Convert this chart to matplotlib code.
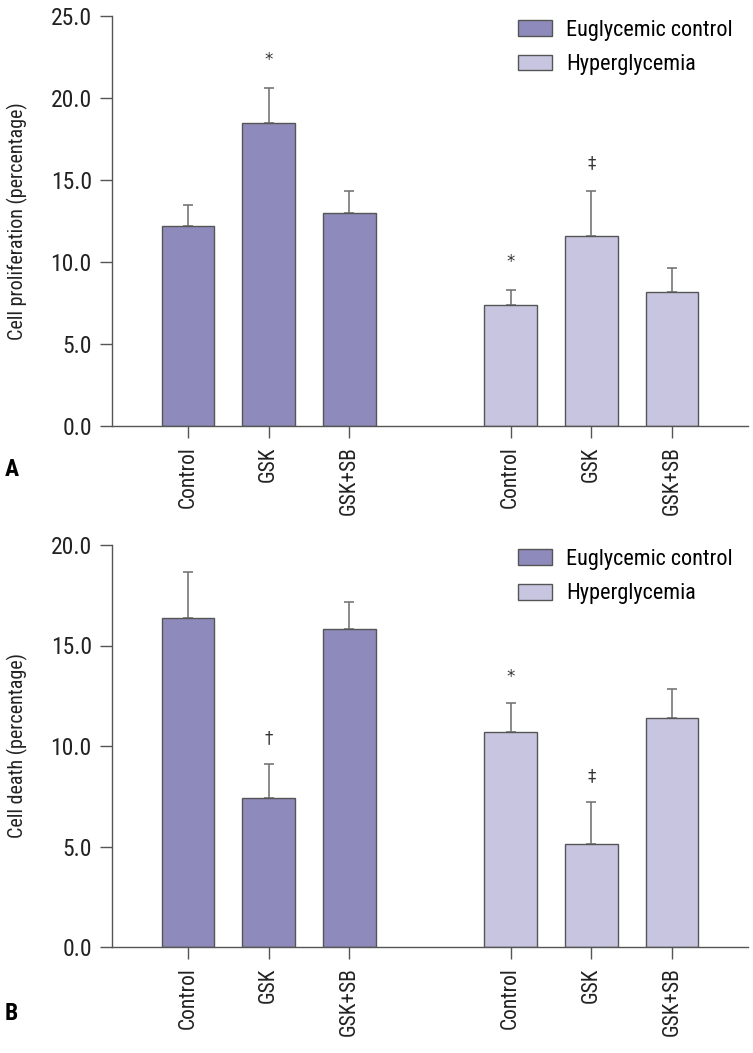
import matplotlib
matplotlib.use("Agg")
import matplotlib.pyplot as plt
from matplotlib import font_manager
import numpy as np

groups = ["Euglycemic control", "Hyperglycemia"]
treatments = ["Control", "GSK", "GSK+SB"]

# panel A: cell proliferation (%)
prolif_eu = [12.2, 18.5, 13.0]
prolif_eu_err = [1.3, 2.1, 1.3]
prolif_hy = [7.4, 11.6, 8.2]
prolif_hy_err = [0.9, 2.7, 1.45]
prolif_marks_eu = ["", "*", ""]
prolif_marks_hy = ["*", "\u2021", ""]

# panel B: cell death (%)
death_eu = [16.35, 7.4, 15.8]
death_eu_err = [2.3, 1.7, 1.35]
death_hy = [10.7, 5.1, 11.4]
death_hy_err = [1.45, 2.1, 1.45]
death_marks_eu = ["", "\u2020", ""]
death_marks_hy = ["*", "\u2021", ""]

dark = "#8e8bbc"
light = "#c7c5df"
edge = "#555555"

# condensed face if there is one, plain sans otherwise
have = {f.name for f in font_manager.fontManager.ttflist}
main_font = "DejaVu Sans"
for name in ["Liberation Sans Narrow", "Roboto Condensed", "Open Sans Condensed", "Liberation Sans"]:
    if name in have:
        main_font = name
        break
plt.rcParams["font.family"] = [main_font, "DejaVu Sans"]

pos_eu = np.array([0, 1, 2])
pos_hy = np.array([4, 5, 6])
width = 0.65
fs = 15.5


def draw_panel(ax, eu, eu_err, hy, hy_err, marks_eu, marks_hy, ymax, step, ylabel, mark_gap):
    for pos, vals, errs, col, lab in [(pos_eu, eu, eu_err, dark, groups[0]),
                                      (pos_hy, hy, hy_err, light, groups[1])]:
        ax.bar(pos, vals, width=width, color=col, edgecolor=edge, linewidth=1.0, label=lab, zorder=2)
        ax.errorbar(pos, vals, yerr=[np.zeros(len(vals)), errs], fmt="none",
                    ecolor="#777777", elinewidth=1.2, capsize=3.5, capthick=1.2, zorder=1)
    for pos, vals, errs, marks in [(pos_eu, eu, eu_err, marks_eu), (pos_hy, hy, hy_err, marks_hy)]:
        for p, v, e, m in zip(pos, vals, errs, marks):
            if m:
                ax.text(p, v + e + mark_gap, m, ha="center", va="center", fontsize=12,
                        color="#333333", family=["DejaVu Sans"])
    ax.set_xlim(-0.94, 6.94)
    ax.set_ylim(0, ymax)
    ticks = np.arange(0, ymax + 0.01, step)
    ax.set_yticks(ticks)
    ax.set_yticklabels(["%.1f" % t for t in ticks])
    ax.set_xticks(list(pos_eu) + list(pos_hy))
    ax.set_xticklabels(treatments * 2, rotation=90)
    ax.spines["top"].set_visible(False)
    ax.spines["right"].set_visible(False)
    for s in ["left", "bottom"]:
        ax.spines[s].set_color(edge)
        ax.spines[s].set_linewidth(1.0)
    ax.tick_params(axis="both", length=8.5, width=1.0, color=edge,
                   labelcolor="#222222", pad=6)
    ax.tick_params(axis="x", labelsize=fs)
    ax.tick_params(axis="y", labelsize=17)
    ax.set_ylabel(ylabel, fontsize=14.5, color="#222222")
    ax.yaxis.set_label_coords(-0.132, 0.5)
    ax.legend(loc="upper right", bbox_to_anchor=(0.99, 1.012), frameon=False, fontsize=16,
              handlelength=1.55, handleheight=0.72, handletextpad=0.62, labelspacing=0.6,
              borderaxespad=0.0)


fig = plt.figure(figsize=(7.53, 10.53), dpi=100)
axA = fig.add_axes([112 / 753, 1 - 426 / 1053, 636 / 753, 410 / 1053])
axB = fig.add_axes([112 / 753, 1 - 947 / 1053, 636 / 753, 402 / 1053])

draw_panel(axA, prolif_eu, prolif_eu_err, prolif_hy, prolif_hy_err,
           prolif_marks_eu, prolif_marks_hy, 25, 5, "Cell proliferation (percentage)", 1.7)
draw_panel(axB, death_eu, death_eu_err, death_hy, death_hy_err,
           death_marks_eu, death_marks_hy, 20, 5, "Cell death (percentage)", 1.3)

fig.text(5 / 753, 1 - 470 / 1053, "A", fontsize=17, fontweight="bold", va="center")
fig.text(5 / 753, 1 - 1013 / 1053, "B", fontsize=17, fontweight="bold", va="center")

fig.savefig("out.png", dpi=100)
